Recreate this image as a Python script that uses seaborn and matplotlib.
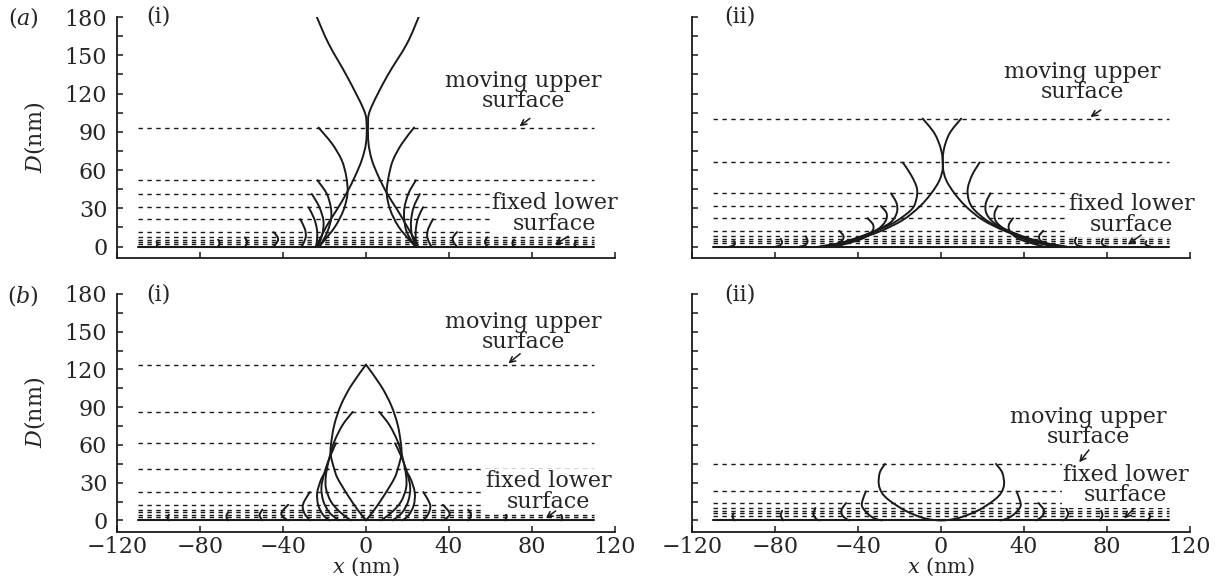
import matplotlib
matplotlib.use("Agg")
import matplotlib.pyplot as plt
from matplotlib.path import Path
from matplotlib.patches import PathPatch
import seaborn as sns

# ---------------- data ----------------
x_ticks = [-120, -80, -40, 0, 40, 80, 120]
y_ticks = [0, 30, 60, 90, 120, 150, 180]
y_minor = [15, 45, 75, 105, 135, 165]
x_span = [-110, 110]

# (a)(i)
a1_levels = [93.3, 51.9, 41.2, 30.8, 21.4, 11.3, 7.2, 5.4, 3.7, 2.0]
a1_curve_x = [
    [-23.7, -18.0, -9.0, -1.0, 0.3, 0.0, -2.0, -5.3, -9.3, -14.0, -19.0, -23.0, -23.7],
    [25.4, 19.7, 10.0, 2.0, 1.0, 1.2, 2.8, 6.0, 10.0, 15.0, 19.7, 24.3, 25.0],
    [-22.9, -16.4, -11.7, -9.5, -8.9, -10.8, -14.9, -20.5, -22.5],
    [23.2, 17.3, 13.0, 10.9, 10.0, 11.7, 15.7, 21.5, 24.0],
    [-23.4, -19.0, -17.0, -16.8, -18.5, -21.3, -22.5],
    [24.0, 20.5, 18.6, 18.4, 19.5, 22.5, 24.0],
    [-26.1, -22.5, -20.5, -21.0, -22.4, -23.0],
    [25.9, 23.0, 21.7, 22.0, 23.3, 24.0],
    [-27.7, -25.0, -23.6, -23.6, -24.2],
    [27.5, 25.0, 24.0, 24.0, 24.6],
    [-31.7, -29.5, -29.0, -30.0, -31.0],
    [32.3, 30.0, 29.5, 30.5, 31.5],
    [-44.6, -42.8, -42.4, -43.5, -44.6],
    [43.9, 42.2, 41.8, 42.8, 43.8],
    [-58.4, -57.3, -58.2],
    [58.4, 57.3, 58.4],
    [-71.3, -70.5, -71.3],
    [71.3, 70.5, 71.3],
    [-101.0, -100.4, -101.0],
    [101.0, 100.4, 101.0],
]
a1_curve_y = [
    [180, 159, 133, 107, 95, 81, 68, 55, 42, 29, 16, 3, 0],
    [180, 159, 133, 107, 95, 81, 68, 55, 42, 29, 16, 3, 0],
    [93.3, 80.7, 67.7, 54.7, 41.7, 28.7, 15.6, 4.0, 0],
    [93.3, 80.7, 67.7, 54.7, 41.7, 28.7, 15.6, 4.0, 0],
    [51.9, 41.7, 31, 22, 12, 3, 0],
    [51.9, 41.7, 31, 22, 12, 3, 0],
    [41.2, 31, 20, 10, 3, 0],
    [41.2, 31, 20, 10, 3, 0],
    [30.8, 22, 13, 5, 0],
    [30.8, 22, 13, 5, 0],
    [21.4, 14, 8, 3, 0],
    [21.4, 14, 8, 3, 0],
    [11.3, 8, 5, 2, 0],
    [11.3, 8, 5, 2, 0],
    [7.2, 3.6, 0],
    [7.2, 3.6, 0],
    [5.4, 2.7, 0],
    [5.4, 2.7, 0],
    [3.7, 1.8, 0],
    [3.7, 1.8, 0],
]

# (a)(ii)
a2_levels = [100.3, 65.9, 41.7, 31.8, 22.2, 12.3, 8.0, 6.0, 4.2, 2.4]
a2_curve_x = [
    [-8.8, -3.1, 0.1, 0.9, -0.7, -4.7, -10.3, -18.4, -29.7, -42.6, -57.1],
    [9.7, 4.1, 1.3, 0.9, 2.5, 6.5, 12.1, 20.2, 31.5, 44.3, 58.8],
    [-18.4, -14.4, -11.6, -12.0, -14.4, -23.3, -36.2, -49.0, -58.7],
    [18.6, 15.0, 12.9, 13.4, 16.1, 24.2, 37.0, 50.8, 60.4],
    [-24.1, -21.4, -21.4, -24.9, -34.6, -47.4, -57.9],
    [23.8, 21.6, 21.9, 25.9, 35.5, 48.4, 58.8],
    [-29.0, -26.2, -26.9, -31.4, -41.0, -53.9],
    [27.4, 25.8, 26.6, 31.5, 41.1, 54.0],
    [-35.4, -32.7, -33.3, -38.6, -50.7],
    [34.7, 32.7, 33.3, 37.9, 49.2],
    [-49.0, -47.0, -47.7, -51.4, -55.4],
    [49.2, 47.3, 47.9, 51.6, 55.6],
    [-65.1, -64.3, -65.5, -68.0],
    [65.3, 64.5, 65.7, 68.2],
    [-77.2, -76.6, -77.7, -79.5],
    [78.0, 77.4, 78.5, 80.3],
    [-99.8, -99.3, -100.3, -101.8],
    [99.0, 98.5, 99.5, 101.0],
]
a2_curve_y = [
    [100.3, 88.6, 75.5, 62.5, 52.1, 41.7, 31.3, 20.8, 11.7, 4.7, 0],
    [100.3, 88.6, 75.5, 62.5, 52.1, 41.7, 31.3, 20.8, 11.7, 4.7, 0],
    [65.9, 56, 45.6, 36.5, 28.7, 18.2, 9.1, 2.6, 0],
    [65.9, 56, 45.6, 36.5, 28.7, 18.2, 9.1, 2.6, 0],
    [41.7, 33.9, 26, 18.2, 10.4, 3.1, 0],
    [41.7, 33.9, 26, 18.2, 10.4, 3.1, 0],
    [31.8, 26, 19.5, 12.5, 5.2, 0],
    [31.8, 26, 19.5, 12.5, 5.2, 0],
    [22.2, 17, 11.7, 5.7, 0],
    [22.2, 17, 11.7, 5.7, 0],
    [12.3, 8.3, 4.7, 1.3, 0],
    [12.3, 8.3, 4.7, 1.3, 0],
    [8.0, 4.0, 1.0, 0],
    [8.0, 4.0, 1.0, 0],
    [6.0, 3.0, 0.8, 0],
    [6.0, 3.0, 0.8, 0],
    [4.2, 2.1, 0.6, 0],
    [4.2, 2.1, 0.6, 0],
]

# (b)(i)
b1_levels = [123.8, 86.3, 61.3, 41.2, 22.5, 12.4, 8.5, 6.5, 4.5, 2.5]
b1_curve_x = [
    [0, -7.2, -12.1, -15.3, -16.9, -17.0, -15.5, -13.7, -8.9, -4.0, 0],
    [0, 7.2, 12.1, 15.3, 16.9, 17.0, 15.5, 13.7, 8.9, 4.0, 0],
    [-6.4, -11.3, -15.3, -17.7, -19.3, -19.3, -16.9, -12.9, -8.9, -7.2],
    [6.4, 11.3, 15.3, 17.7, 19.3, 19.3, 16.9, 12.9, 8.9, 7.2],
    [-14.5, -17.5, -20.0, -21.5, -20.5, -17.5, -13.0],
    [14.0, 17.2, 19.8, 21.3, 20.3, 17.3, 12.8],
    [-18.5, -21.5, -23.5, -23.0, -20.5, -17.5],
    [18.5, 21.5, 23.5, 23.0, 20.5, 17.5],
    [-27.0, -29.5, -30.5, -29.5, -27.0],
    [27.6, 30.0, 31.0, 30.0, 27.6],
    [-37.5, -40.0, -40.8, -39.5, -37.5],
    [37.0, 39.5, 40.3, 39.0, 37.0],
    [-50.0, -51.3, -50.0],
    [49.3, 50.6, 49.3],
    [-66.5, -67.3, -66.5],
    [67.0, 67.8, 67.0],
    [-95.0, -95.6, -95.0],
    [94.0, 94.6, 94.0],
]
b1_curve_y = [
    [123.8, 107, 91.6, 75.8, 60, 52, 42, 33.5, 20.3, 8.4, 0],
    [123.8, 107, 91.6, 75.8, 60, 52, 42, 33.5, 20.3, 8.4, 0],
    [86.3, 75.8, 62.6, 49.4, 36.2, 25.6, 15, 7.2, 1.9, 0],
    [86.3, 75.8, 62.6, 49.4, 36.2, 25.6, 15, 7.2, 1.9, 0],
    [61.3, 50, 38, 26, 15, 6, 0],
    [61.3, 50, 38, 26, 15, 6, 0],
    [41.2, 33, 22, 12, 4, 0],
    [41.2, 33, 22, 12, 4, 0],
    [22.5, 16, 11, 5, 0],
    [22.5, 16, 11, 5, 0],
    [12.4, 8, 5, 2, 0],
    [12.4, 8, 5, 2, 0],
    [8.5, 4.2, 0],
    [8.5, 4.2, 0],
    [6.5, 3.2, 0],
    [6.5, 3.2, 0],
    [4.5, 2.2, 0],
    [4.5, 2.2, 0],
]

# (b)(ii)
b2_levels = [44.9, 23.0, 13.8, 9.8, 7.6, 5.5, 3.4]
b2_curve_x = [
    [-27.0, -29.5, -30.0, -28.5, -25.0, -17.5, -10.0, -4.0, 0],
    [26.5, 29.5, 30.4, 29.0, 25.5, 18.0, 10.0, 4.0, 0],
    [-36.2, -37.8, -38.0, -35.3, -32.0, -28.5],
    [36.4, 38.0, 38.3, 35.5, 32.0, 28.5],
    [-45.8, -48.0, -47.3, -44.5],
    [47.0, 49.6, 48.8, 46.0],
    [-60.5, -61.5, -60.0, -58.5],
    [60.3, 61.3, 60.0, 58.5],
    [-76.6, -77.2, -76.0],
    [77.2, 77.8, 76.6],
    [-100.0, -100.5, -99.5],
    [100.2, 100.7, 99.7],
]
b2_curve_y = [
    [44.9, 38, 29, 22, 16, 8, 2.7, 0.4, 0],
    [44.9, 38, 29, 22, 16, 8, 2.7, 0.4, 0],
    [23.0, 16, 11, 5.3, 1.5, 0],
    [23.0, 16, 11, 5.3, 1.5, 0],
    [13.8, 8, 3.5, 0],
    [13.8, 8, 3.5, 0],
    [9.8, 5, 1, 0],
    [9.8, 5, 1, 0],
    [7.6, 3.8, 0],
    [7.6, 3.8, 0],
    [5.5, 2.8, 0],
    [5.5, 2.8, 0],
]

# ---------------- style ----------------
sns.set_theme(style="ticks")
plt.rcParams['font.family'] = ['DejaVu Serif']
plt.rcParams['mathtext.fontset'] = 'dejavuserif'
FS = 16

fig = plt.figure(figsize=(12.22, 5.81), dpi=100)
fig.patch.set_facecolor('white')

W, H = 1222.0, 581.0
left_l, left_r = 117 / W, 692 / W
wid = 498 / W
top_bot, top_h = 1 - 258 / H, (258 - 17) / H
bot_bot, bot_h = 1 - 531.7 / H, (531.7 - 294) / H

ax_a1 = fig.add_axes([left_l, top_bot, wid, top_h])
ax_a2 = fig.add_axes([left_r, top_bot, wid, top_h])
ax_b1 = fig.add_axes([left_l, bot_bot, wid, bot_h])
ax_b2 = fig.add_axes([left_r, bot_bot, wid, bot_h])


def smooth_profile(ax, xs, ys):
    """Draw a smooth curve passing through every read point
    (Catmull-Rom segments rendered as cubic Bezier path pieces)."""
    pts = list(zip(xs, ys))
    n = len(pts)
    verts = [pts[0]]
    codes = [Path.MOVETO]
    for i in range(n - 1):
        p0 = pts[i - 1] if i > 0 else pts[i]
        p1 = pts[i]
        p2 = pts[i + 1]
        p3 = pts[i + 2] if i + 2 < n else pts[i + 1]
        c1 = (p1[0] + (p2[0] - p0[0]) / 6.0, p1[1] + (p2[1] - p0[1]) / 6.0)
        c2 = (p2[0] - (p3[0] - p1[0]) / 6.0, p2[1] - (p3[1] - p1[1]) / 6.0)
        verts += [c1, c2, p2]
        codes += [Path.CURVE4, Path.CURVE4, Path.CURVE4]
    patch = PathPatch(Path(verts, codes), fc='none', ec='k', lw=1.4,
                      capstyle='round', joinstyle='round', zorder=4,
                      transform=ax.transData)
    ax.add_patch(patch)


def panel(ax, levels, cx, cy, show_x, show_y, tag):
    ax.set_facecolor('white')
    for lv in levels:
        ax.plot(x_span, [lv, lv], color='k', lw=1.0, ls=(0, (3.2, 3.2)), zorder=2)
    sns.lineplot(x=x_span, y=[0, 0], color='k', lw=1.5, ax=ax, zorder=3)
    for xs, ys in zip(cx, cy):
        smooth_profile(ax, xs, ys)
    ax.set_xlim(-120, 120)
    ax.set_ylim(-9, 180)
    ax.set_xticks(x_ticks)
    ax.set_yticks(y_ticks)
    ax.set_yticks(y_minor, minor=True)
    ax.tick_params(axis='both', which='both', direction='in', length=4.5,
                   width=1.1, color='k', labelsize=FS, pad=7)
    ax.tick_params(axis='x', pad=3)
    for s in ['top', 'right']:
        ax.spines[s].set_visible(False)
    for s in ['left', 'bottom']:
        ax.spines[s].set_linewidth(1.3)
        ax.spines[s].set_color('k')
    if not show_x:
        ax.set_xticklabels([])
        ax.set_xlabel('')
    else:
        ax.set_xlabel(r'$x$ (nm)', fontsize=15)
        ax.xaxis.label.set_va('center')
        ax.xaxis.set_label_coords(0.5, -(567 - 531.7) / 237.7)
    if not show_y:
        ax.set_yticklabels([])
        ax.set_ylabel('')
    else:
        ax.set_ylabel(r'$D$(nm)', fontsize=FS)
        ax.yaxis.set_label_coords(-0.14, 0.5)
    ax.text(-100 if tag == '(i)' else -97, 180, tag, ha='center', va='center',
            fontsize=FS)


def note(ax, txt, pos, tail, head):
    ax.text(pos[0], pos[1], txt, ha='center', va='center', fontsize=FS,
            linespacing=0.9, zorder=6, clip_on=False,
            bbox=dict(fc='white', ec='none', pad=1.0))
    ax.annotate('', xy=head, xytext=tail, annotation_clip=False,
                arrowprops=dict(arrowstyle='->', lw=1.1, color='k',
                                shrinkA=0, shrinkB=0, mutation_scale=10),
                zorder=7)


panel(ax_a1, a1_levels, a1_curve_x, a1_curve_y, False, True, '(i)')
panel(ax_a2, a2_levels, a2_curve_x, a2_curve_y, False, False, '(ii)')
panel(ax_b1, b1_levels, b1_curve_x, b1_curve_y, True, True, '(i)')
panel(ax_b2, b2_levels, b2_curve_x, b2_curve_y, True, False, '(ii)')

note(ax_a1, 'moving upper\nsurface', (76, 122), (79, 100.5), (74, 94.3))
note(ax_a1, 'fixed lower\nsurface', (91, 26), (97.5, 8.0), (91.0, 1.5))
note(ax_a2, 'moving upper\nsurface', (68, 129), (77, 107), (72, 101.6))
note(ax_a2, 'fixed lower\nsurface', (92, 25), (96.5, 9.0), (90.0, 1.5))
note(ax_b1, 'moving upper\nsurface', (76, 150), (74.3, 132.5), (68.6, 124.8))
note(ax_b1, 'fixed lower\nsurface', (88, 23), (91.4, 7.5), (86.7, 1.8))
note(ax_b2, 'moving upper\nsurface', (71, 74), (71.3, 56), (66.6, 46.2))
note(ax_b2, 'fixed lower\nsurface', (89, 28), (93, 9.5), (88.3, 1.5))

fig.text(23 / W, 1 - 18 / H, r'($a$)', ha='center', va='center', fontsize=FS)
fig.text(23 / W, 1 - 296 / H, r'($b$)', ha='center', va='center', fontsize=FS)

fig.savefig('out.png', dpi=100, facecolor='white')
